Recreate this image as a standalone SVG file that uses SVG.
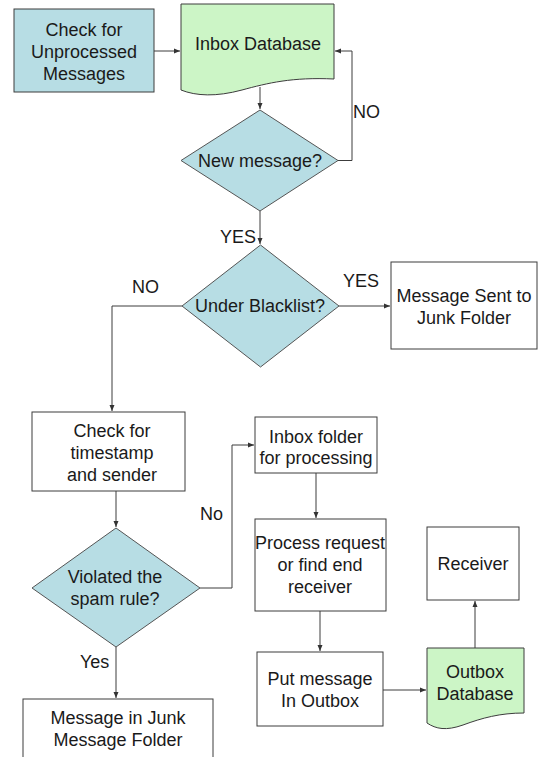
<svg xmlns="http://www.w3.org/2000/svg" width="538" height="757" viewBox="0 0 538 757">
<defs>
<marker id="ah" markerWidth="6" markerHeight="6" refX="6" refY="3" orient="auto" markerUnits="userSpaceOnUse">
<path d="M0,0.5 L6,3 L0,5.5 z" fill="#333"/>
</marker>
<style>
.box{fill:#fff;stroke:#3c3c3c;stroke-width:1}
.blue{fill:#b7dde4;stroke:#3c3c3c;stroke-width:1}
.green{fill:#ccf5c6;stroke:#3c3c3c;stroke-width:1}
.dia{fill:#b7dde4;stroke:#555;stroke-width:1}
.t{font-family:"Liberation Sans",Arial,sans-serif;font-size:18px;fill:#1a1a1a;text-anchor:middle}
.l{font-family:"Liberation Sans",Arial,sans-serif;font-size:18px;fill:#1a1a1a}
.c{fill:none;stroke:#3c3c3c;stroke-width:1}
.a{marker-end:url(#ah)}
</style>
</defs>
<rect width="538" height="757" fill="#fff"/>

<g id="connectors">
<path class="c a" d="M154,51 H180"/>
<path class="c a" d="M260,87 V109"/>
<path class="c a" d="M338,160.5 H352 V51 H335"/>
<path class="c a" d="M260,211 V244"/>
<path class="c a" d="M339,306 H390"/>
<path class="c a" d="M182,306 H112 V411"/>
<path class="c a" d="M116,491 V527"/>
<path class="c a" d="M200,588 H232 V445 H254"/>
<path class="c a" d="M116,647 V698"/>
<path class="c a" d="M316,473 V518"/>
<path class="c a" d="M320,611 V651"/>
<path class="c a" d="M383,690 H426"/>
<path class="c a" d="M475,648 V601"/>
</g>

<g id="labels">
<text class="l" x="353" y="118">NO</text>
<text class="l" x="220" y="243">YES</text>
<text class="l" x="343" y="287">YES</text>
<text class="l" x="132" y="293">NO</text>
<text class="l" x="200" y="520">No</text>
<text class="l" x="80" y="668">Yes</text>
</g>

<g id="check-unprocessed">
<rect class="blue" x="14" y="9" width="140" height="83"/>
<text class="t" x="84" y="36">Check for</text>
<text class="t" x="84" y="58">Unprocessed</text>
<text class="t" x="84" y="80">Messages</text>
</g>

<g id="inbox-db">
<path class="green" d="M181,4 H334 V79 C292,77 268,83 242,90 C216,97 196,96 181,90 Z"/>
<text class="t" x="258" y="50">Inbox Database</text>
</g>

<g id="new-message">
<path class="dia" d="M260,110 L338,160.5 L260,211 L181,160.5 Z"/>
<text class="t" x="260" y="167">New message?</text>
</g>

<g id="blacklist">
<path class="dia" d="M260.5,245 L339,306 L260.5,367 L182,306 Z"/>
<text class="t" x="260" y="312">Under Blacklist?</text>
</g>

<g id="junk-folder">
<rect class="box" x="391" y="262" width="146" height="87"/>
<text class="t" x="464" y="302">Message Sent to</text>
<text class="t" x="464" y="324">Junk Folder</text>
</g>

<g id="check-timestamp">
<rect class="box" x="32" y="412" width="153" height="79"/>
<text class="t" x="112" y="437">Check for</text>
<text class="t" x="112" y="459">timestamp</text>
<text class="t" x="112" y="481">and sender</text>
</g>

<g id="spam-rule">
<path class="dia" d="M116,528 L200,588 L116,647 L32,588 Z"/>
<text class="t" x="115" y="583">Violated the</text>
<text class="t" x="115" y="605">spam rule?</text>
</g>

<g id="junk-message">
<rect class="box" x="23" y="699" width="190" height="70"/>
<text class="t" x="118" y="724">Message in Junk</text>
<text class="t" x="118" y="746">Message Folder</text>
</g>

<g id="inbox-folder">
<rect class="box" x="255" y="417" width="122" height="56"/>
<text class="t" x="316" y="443">Inbox folder</text>
<text class="t" x="316" y="464">for processing</text>
</g>

<g id="process-request">
<rect class="box" x="255" y="519" width="131" height="92"/>
<text class="t" x="320" y="549">Process request</text>
<text class="t" x="320" y="571">or find end</text>
<text class="t" x="320" y="593">receiver</text>
</g>

<g id="put-outbox">
<rect class="box" x="257" y="652" width="126" height="74"/>
<text class="t" x="320" y="685">Put message</text>
<text class="t" x="320" y="707">In Outbox</text>
</g>

<g id="outbox-db">
<path class="green" d="M427,648 H524 V713 C500,713 482,718 463,725 C446,731 436,729 427,723 Z"/>
<text class="t" x="475" y="678">Outbox</text>
<text class="t" x="475" y="700">Database</text>
</g>

<g id="receiver">
<rect class="box" x="427" y="527" width="92" height="73"/>
<text class="t" x="473" y="570">Receiver</text>
</g>
</svg>
